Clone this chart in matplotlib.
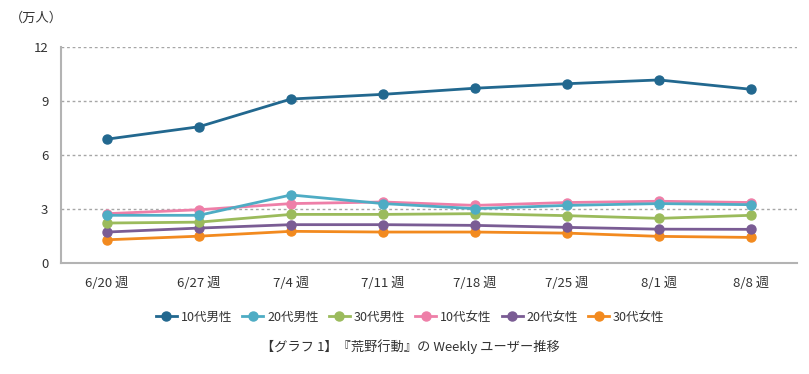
import matplotlib
matplotlib.use("Agg")
import matplotlib.pyplot as plt
import numpy as np

plt.rcParams["font.family"] = ["Noto Sans CJK JP", "DejaVu Sans"]

# weekly users (10k people)
weeks = ["6/20 週", "6/27 週", "7/4 週", "7/11 週", "7/18 週", "7/25 週", "8/1 週", "8/8 週"]
male_10s = [6.88, 7.57, 9.11, 9.37, 9.71, 9.96, 10.17, 9.65]
male_20s = [2.65, 2.65, 3.78, 3.30, 3.02, 3.20, 3.30, 3.24]
male_30s = [2.22, 2.27, 2.70, 2.70, 2.74, 2.63, 2.48, 2.65]
female_10s = [2.74, 2.96, 3.30, 3.39, 3.20, 3.36, 3.43, 3.36]
female_20s = [1.72, 1.94, 2.13, 2.13, 2.09, 1.98, 1.88, 1.87]
female_30s = [1.29, 1.49, 1.76, 1.72, 1.72, 1.66, 1.48, 1.42]

series = [
    ("10代男性", male_10s, "#22688f"),
    ("20代男性", male_20s, "#4eacc4"),
    ("30代男性", male_30s, "#9bbb5c"),
    ("10代女性", female_10s, "#ee7fa8"),
    ("20代女性", female_20s, "#7a5c94"),
    ("30代女性", female_30s, "#f28a1f"),
]

fig = plt.figure(figsize=(8.09, 3.74), dpi=100)
ax = fig.add_axes([61 / 809, 111 / 374, 736 / 809, 216 / 374])

x = np.arange(len(weeks))
# draw bottom series first so upper ones overlap like the original
for name, vals, col in reversed(series):
    ax.plot(x, vals, "-o", color=col, lw=2.0, ms=6.5, label=name)

ax.set_xlim(-0.5, len(weeks) - 0.5)
ax.set_ylim(0, 12)
ax.set_yticks([0, 3, 6, 9, 12])
ax.set_xticks(x)
ax.set_xticklabels(weeks)
ax.tick_params(length=0, labelsize=9.5, colors="#333333")
ax.tick_params(axis="x", pad=10)
ax.tick_params(axis="y", pad=9)

for v in [3, 6, 9, 12]:
    ax.axhline(v, color="#a6a6a6", lw=1.0, ls=(0, (2, 2)), zorder=0)

for s in ["top", "right"]:
    ax.spines[s].set_visible(False)
ax.spines["left"].set_color("#b3b3b3")
ax.spines["bottom"].set_color("#b3b3b3")
ax.spines["left"].set_linewidth(1.5)
ax.spines["bottom"].set_linewidth(1.5)

fig.text(10 / 809, 1 - 18 / 374, "（万人）", fontsize=9.5, color="#333333",
         ha="left", va="center")

handles, labels = ax.get_legend_handles_labels()
leg = fig.legend(handles[::-1], labels[::-1], loc="center", ncol=6,
                 bbox_to_anchor=(410 / 809, 1 - 317 / 374), frameon=False,
                 fontsize=9, handlelength=1.7, handletextpad=0.3,
                 columnspacing=0.8, labelcolor="#333333")

fig.text(410 / 809, 1 - 347 / 374, "【グラフ 1】『荒野行動』の Weekly ユーザー推移",
         fontsize=9.5, color="#333333", ha="center", va="center")

fig.savefig("out.png", dpi=100)
